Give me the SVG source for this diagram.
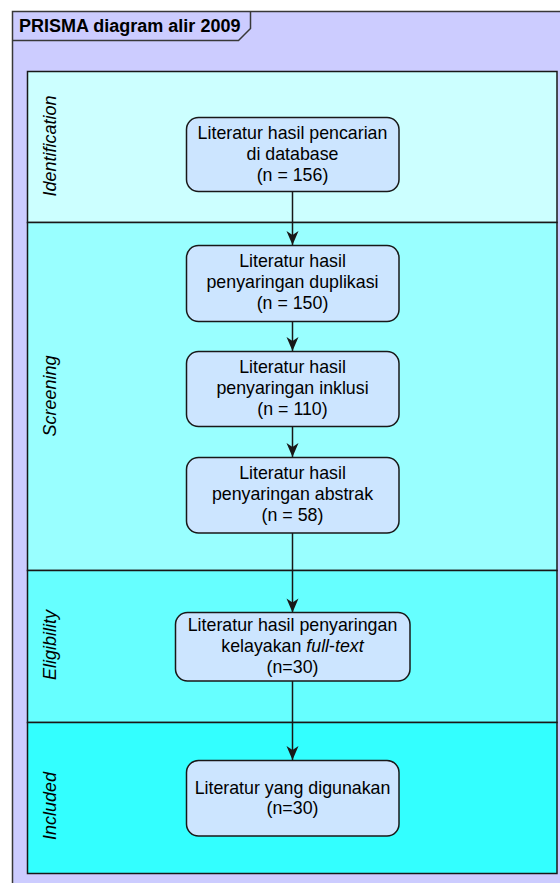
<svg xmlns="http://www.w3.org/2000/svg" width="560" height="883" viewBox="0 0 560 883">
<style>
.frame{fill:#CCCCFF;stroke:#383838;stroke-width:1.5}
.lane{stroke:#181818;stroke-width:1.5}
.node rect{fill:#CCE5FF;stroke:#181818;stroke-width:1.5}
.t{font-family:"Liberation Sans",Arial,sans-serif;font-size:17.8px;fill:#000;text-anchor:middle}
.lbl{font-family:"Liberation Sans",Arial,sans-serif;font-size:18px;font-style:italic;fill:#000;text-anchor:middle}
.title{font-family:"Liberation Sans",Arial,sans-serif;font-size:18px;font-weight:bold;fill:#000}
.conn line{stroke:#181818;stroke-width:1.5}
</style>
<defs>
<marker id="ah" markerUnits="userSpaceOnUse" markerWidth="16" markerHeight="14" viewBox="-15 -7 16 14" refX="0" refY="0" orient="auto">
<path d="M0,0 L-14,-6 L-10,0 L-14,6 Z" fill="#181818"/>
</marker>
</defs>
<g id="frame">
<rect class="frame" x="12.5" y="11.5" width="560" height="880"/>
<path d="M12.5,40.5 L238.5,40.5 L250.5,28.5 L250.5,11.5" fill="none" stroke="#383838" stroke-width="1.5"/>
<text class="title" x="19" y="32">PRISMA diagram alir 2009</text>
</g>
<g id="lanes">
<rect class="lane" x="27.5" y="71.5" width="529.5" height="151" fill="#CCFFFF"/>
<rect class="lane" x="27.5" y="222.5" width="529.5" height="348" fill="#99FFFF"/>
<rect class="lane" x="27.5" y="570.5" width="529.5" height="152" fill="#66FFFF"/>
<rect class="lane" x="27.5" y="722.5" width="529.5" height="151" fill="#33FFFF"/>
<text class="lbl" transform="translate(56,146) rotate(-90)">Identification</text>
<text class="lbl" transform="translate(56,396) rotate(-90)">Screening</text>
<text class="lbl" transform="translate(56,645) rotate(-90)">Eligibility</text>
<text class="lbl" transform="translate(56,806) rotate(-90)">Included</text>
</g>
<g id="connectors" class="conn">
<line x1="292.5" y1="191.5" x2="292.5" y2="245" marker-end="url(#ah)"/>
<line x1="292.5" y1="321.5" x2="292.5" y2="351" marker-end="url(#ah)"/>
<line x1="292.5" y1="426" x2="292.5" y2="457" marker-end="url(#ah)"/>
<line x1="292.5" y1="533" x2="292.5" y2="612.5" marker-end="url(#ah)"/>
<line x1="292.5" y1="681" x2="292.5" y2="760" marker-end="url(#ah)"/>
</g>
<g id="n1" class="node">
<rect x="186.5" y="117.5" width="212.5" height="74" rx="12"/>
<text class="t" x="292.5" y="139">Literatur hasil pencarian</text>
<text class="t" x="292.5" y="160">di database</text>
<text class="t" x="292.5" y="181">(n = 156)</text>
</g>
<g id="n2" class="node">
<rect x="186.5" y="245.5" width="212.5" height="76" rx="12"/>
<text class="t" x="292.5" y="267">Literatur hasil</text>
<text class="t" x="292.5" y="288">penyaringan duplikasi</text>
<text class="t" x="292.5" y="309">(n = 150)</text>
</g>
<g id="n3" class="node">
<rect x="186.5" y="351.5" width="212.5" height="75" rx="12"/>
<text class="t" x="292.5" y="373">Literatur hasil</text>
<text class="t" x="292.5" y="394">penyaringan inklusi</text>
<text class="t" x="292.5" y="415">(n = 110)</text>
</g>
<g id="n4" class="node">
<rect x="186.5" y="457.5" width="212.5" height="75.5" rx="12"/>
<text class="t" x="292.5" y="479">Literatur hasil</text>
<text class="t" x="292.5" y="500">penyaringan abstrak</text>
<text class="t" x="292.5" y="521">(n = 58)</text>
</g>
<g id="n5" class="node">
<rect x="175.5" y="612.5" width="234.5" height="68.5" rx="12"/>
<text class="t" x="292.5" y="631">Literatur hasil penyaringan</text>
<text class="t" x="292.5" y="652">kelayakan <tspan font-style="italic">full</tspan>-<tspan font-style="italic">text</tspan></text>
<text class="t" x="292.5" y="673">(n=30)</text>
</g>
<g id="n6" class="node">
<rect x="186.5" y="760.5" width="212.5" height="75.5" rx="12"/>
<text class="t" x="292.5" y="794">Literatur yang digunakan</text>
<text class="t" x="292.5" y="814">(n=30)</text>
</g>
</svg>
